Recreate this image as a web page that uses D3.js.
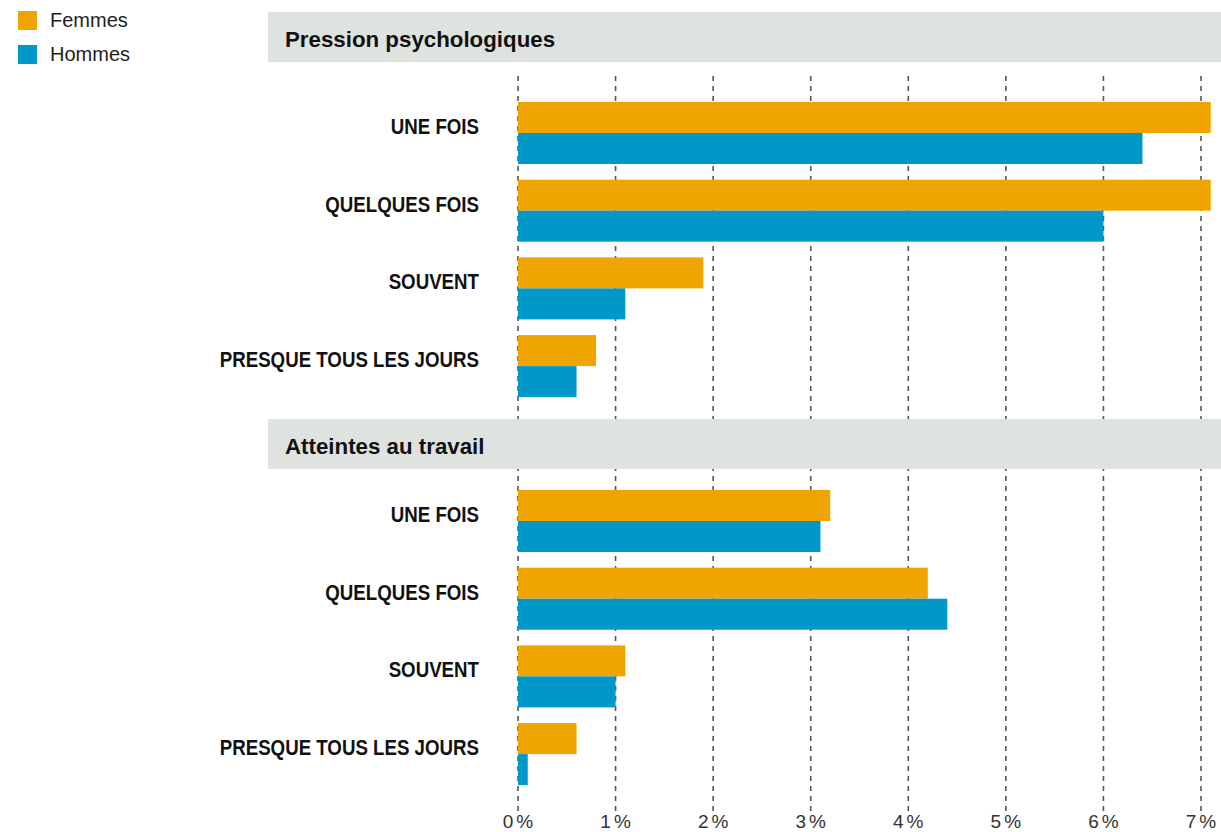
<!DOCTYPE html>
<html><head><meta charset="utf-8">
<script src="https://cdn.jsdelivr.net/npm/d3@7"></script>
<style>body{margin:0;background:#fff}svg{display:block}</style>
</head><body>
<svg id="chart" width="1221" height="832"></svg>
<script>
const categories = ["UNE FOIS", "QUELQUES FOIS", "SOUVENT", "PRESQUE TOUS LES JOURS"];
const groups = ["Pression psychologiques", "Atteintes au travail"];
const series = ["Femmes", "Hommes"];
const pressionFemmes = [7.1, 7.1, 1.9, 0.8];
const pressionHommes = [6.4, 6.0, 1.1, 0.6];
const atteintesFemmes = [3.2, 4.2, 1.1, 0.6];
const atteintesHommes = [3.1, 4.4, 1.0, 0.1];
const tickValues = [0, 1, 2, 3, 4, 5, 6, 7];
const tickLabels = ["0%", "1%", "2%", "3%", "4%", "5%", "6%", "7%"];

const colors = {Femmes: "#F0A400", Hommes: "#0098C8"};
const data = [
  {name: groups[0], Femmes: pressionFemmes, Hommes: pressionHommes},
  {name: groups[1], Femmes: atteintesFemmes, Hommes: atteintesHommes}
];

const svg = d3.select("#chart");
const x = d3.scaleLinear().domain([0, 7]).range([518, 1201]);

// gridlines
svg.append("g").selectAll("line").data(tickValues).join("line")
  .attr("x1", d => x(d)).attr("x2", d => x(d))
  .attr("y1", 76).attr("y2", 812)
  .attr("stroke", "#555").attr("stroke-width", 1.6)
  .attr("stroke-dasharray", "5,5");

const groupTop = [12, 419];
const bandOffset = [82, 63];
const headerH = 50;
const labelFont = "'Liberation Sans', Arial, sans-serif";
data.forEach((g, gi) => {
  const top = groupTop[gi];
  svg.append("rect").attr("x", 268).attr("y", top).attr("width", 1221 - 268).attr("height", headerH)
    .attr("fill", "#DFE3E0");
  svg.append("text")
    .attr("transform", `translate(285,${top + 35}) scale(0.97,1)`)
    .attr("font-family", labelFont)
    .attr("font-weight", "bold").attr("font-size", 23).attr("fill", "#111")
    .text(g.name);

  const yb = d3.scaleBand().domain(categories).range([top + bandOffset[gi], top + bandOffset[gi] + 4 * 77.7]);
  const inner = d3.scaleBand().domain(series).range([8, 70]);

  const cg = svg.append("g").selectAll("g").data(categories).join("g")
    .attr("transform", d => `translate(0,${yb(d)})`);
  series.forEach(s => {
    cg.append("rect")
      .attr("x", x(0))
      .attr("y", inner(s))
      .attr("width", (d, i) => x(g[s][i]) - x(0))
      .attr("height", inner.bandwidth())
      .attr("fill", colors[s]);
  });
  cg.append("text")
    .attr("transform", "translate(479,40) scale(0.85,1)")
    .attr("text-anchor", "end")
    .attr("font-family", labelFont)
    .attr("font-weight", "bold").attr("font-size", 22).attr("fill", "#111")
    .text(d => d);
});

// x axis labels
svg.append("g").selectAll("text").data(tickValues).join("text")
  .attr("x", d => x(d) + 1.5).attr("y", 828)
  .attr("text-anchor", "middle")
  .attr("font-family", "'Liberation Sans', Arial, sans-serif")
  .attr("font-size", 19).attr("fill", "#333")
  .attr("letter-spacing", 3)
  .text((d, i) => tickLabels[i]);

// legend
const leg = svg.append("g").selectAll("g").data(series).join("g")
  .attr("transform", (d, i) => `translate(18,${11 + i * 34})`);
leg.append("rect").attr("width", 19).attr("height", 19).attr("fill", d => colors[d]);
leg.append("text").attr("x", 32).attr("y", 16)
  .attr("font-family", "'Liberation Sans', Arial, sans-serif")
  .attr("font-size", 20).attr("fill", "#222")
  .text(d => d);
</script>
</body></html>
